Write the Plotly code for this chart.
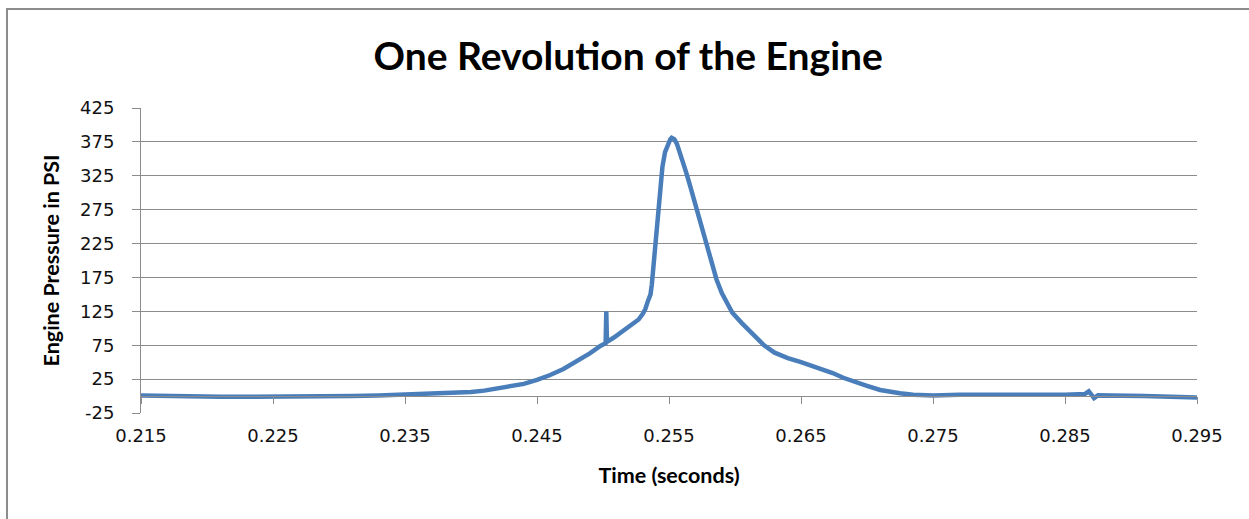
import plotly.graph_objects as go

time_s = [0.215, 0.217, 0.219, 0.221, 0.223, 0.225, 0.227, 0.229, 0.231, 0.233,
          0.235, 0.237, 0.239, 0.240, 0.241, 0.242, 0.243, 0.244, 0.245, 0.246,
          0.247, 0.248, 0.249, 0.2498, 0.2502, 0.25025, 0.2503, 0.2508, 0.2513,
          0.2518, 0.2523, 0.2527, 0.2530, 0.2532, 0.2534, 0.2536, 0.2537, 0.2539,
          0.2541, 0.2543, 0.2545, 0.2547, 0.2549, 0.2551, 0.2552, 0.2554, 0.2556,
          0.2558, 0.2560, 0.2563, 0.2566, 0.2570, 0.2573, 0.2577, 0.2581, 0.2586,
          0.2590, 0.2594, 0.2598, 0.2605, 0.2611, 0.2617, 0.2622, 0.2630, 0.2640,
          0.2650, 0.2660, 0.2667, 0.2674, 0.2682, 0.2690, 0.2700, 0.2710, 0.2718,
          0.2725, 0.2735, 0.2750, 0.2770, 0.2790, 0.2810, 0.2830, 0.2850, 0.2865,
          0.2868, 0.2870, 0.2872, 0.2875, 0.2890, 0.2910, 0.2930, 0.2950]
pressure_psi = [1, 0, 0, -1, -1, -1, -1, 0, 0, 1,
                2, 3, 5, 6, 8, 11, 14, 18, 24, 31,
                40, 51, 63, 74, 78, 125, 80, 86, 93,
                99, 106, 113, 121, 128, 140, 150, 165, 210,
                255, 300, 338, 360, 372, 379, 381, 379, 372,
                361, 348, 330, 310, 283, 261, 232, 203, 172,
                152, 137, 123, 108, 96, 85, 75, 64, 56,
                50, 44, 39, 34, 27, 21, 15, 9, 6,
                4, 2, 1, 2, 2, 1, 2, 2, 3,
                7, 2, -3, 1, 0, 0, -1, -2]

x_ticks = [0.215, 0.225, 0.235, 0.245, 0.255, 0.265, 0.275, 0.285, 0.295]
x_tick_labels = ["0.215", "0.225", "0.235", "0.245", "0.255", "0.265", "0.275", "0.285", "0.295"]
y_ticks = [-25, 25, 75, 125, 175, 225, 275, 325, 375, 425]
y_tick_labels = ["-25", "25", "75", "125", "175", "225", "275", "325", "375", "425"]

title_text = "One Revolution of the Engine"
x_title = "Time (seconds)"
y_title = "Engine Pressure in PSI"

grid_color = "#8c8c8c"
line_color = "rgb(74,126,187)"

fig = go.Figure()
fig.add_trace(go.Scatter(x=time_s, y=pressure_psi, mode="lines",
                         line=dict(color=line_color, width=4.5), showlegend=False,
                         hoverinfo="skip"))
# invisible trace to carry the secondary x axis (tick marks at y = 0)
fig.add_trace(go.Scatter(x=[x_ticks[0], x_ticks[-1]], y=[0, 0], xaxis="x2",
                         mode="lines", line=dict(width=0), opacity=0,
                         showlegend=False, hoverinfo="skip"))

ymin, ymax = -25, 425
tick_font = dict(family="DejaVu Sans", size=18, color="#111")
fig.update_layout(
    width=1249, height=519,
    margin=dict(l=141, r=52, t=108, b=106),
    paper_bgcolor="white", plot_bgcolor="white",
    title=dict(text=title_text, x=0.503, xanchor="center", y=1 - 56/519, yanchor="middle",
               font=dict(family="Lato", size=39, color="black", weight="bold")),
    xaxis=dict(range=[x_ticks[0], x_ticks[-1]], tickvals=x_ticks, ticktext=x_tick_labels,
               showgrid=False, zeroline=False, showline=False, ticks="",
               tickfont=tick_font, ticklabelstandoff=10,
               title=dict(text=x_title, standoff=22,
                          font=dict(family="Lato", size=21.5, color="black", weight="bold"))),
    xaxis2=dict(range=[x_ticks[0], x_ticks[-1]], tickvals=x_ticks, overlaying="x",
                anchor="free", position=(0 - ymin) / (ymax - ymin), side="bottom",
                showgrid=False, zeroline=False, showline=True, linecolor=grid_color,
                linewidth=1, ticks="outside", ticklen=7, tickcolor=grid_color,
                showticklabels=False),
    yaxis=dict(range=[ymin, ymax], tickvals=y_ticks, ticktext=y_tick_labels,
               showgrid=True, gridcolor=grid_color,
               gridwidth=1, zeroline=False, showline=True, linecolor=grid_color, linewidth=1,
               ticks="outside", ticklen=8, tickcolor=grid_color,
               tickfont=tick_font, ticklabelstandoff=14,
               title=dict(text=y_title, standoff=14,
                          font=dict(family="Lato", size=21.5, color="black", weight="bold"))),
)

# outer chart frame (top-left visible, extends past the window)
fig.add_shape(type="rect", xref="paper", yref="paper",
              x0=(7 - 141) / 1056, x1=(1260 - 141) / 1056,
              y0=(413 - 530) / 305, y1=(413 - 9) / 305,
              line=dict(color="#8c8c8c", width=2), fillcolor="rgba(0,0,0,0)", layer="below")

fig.write_html("out.html")
